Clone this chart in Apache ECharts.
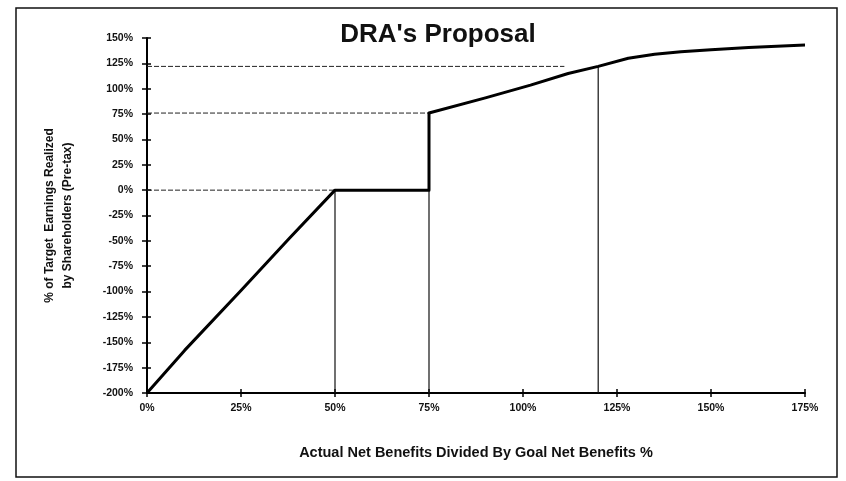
<!DOCTYPE html>
<html>
<head>
<meta charset="utf-8">
<script src="https://cdn.jsdelivr.net/npm/echarts@6/dist/echarts.min.js"></script>
<style>
  html, body { margin: 0; padding: 0; background: #fff; }
  #chart { width: 846px; height: 481px; }
</style>
</head>
<body>
<div id="chart"></div>
<script>
// Net benefits ratio (%) versus share of target earnings realized (%)
const benefitPct = [0, 10, 25, 38, 50, 75, 75, 90, 102, 112, 120, 128, 135, 142, 150, 160, 175];
const earningsPct = [-200, -158, -99, -47, 0, 0, 76, 91, 103.5, 115, 122, 130, 134, 136.5, 138.5, 140.7, 143];

// Dotted guide lines from the y axis to the breakpoints
const guideLevels = [0, 76, 122];
const guideEnds = [50, 75, 111];
// Drop lines from the breakpoints to the x axis
const dropX = [50, 75, 120];
const dropTop = [0, 0, 122];

const xTicks = { min: 0, max: 175, step: 25 };
const yTicks = { min: -200, max: 150, step: 25 };

const titleText = "DRA's Proposal";
const xName = 'Actual Net Benefits Divided By Goal Net Benefits %';
const yName = '% of Target  Earnings Realized\nby Shareholders (Pre-tax)';

const pct = v => v + '%';
const curve = benefitPct.map((x, i) => [x, earningsPct[i]]);

const labelFont = {
  fontFamily: 'Liberation Sans, Arial, sans-serif',
  fontWeight: 'bold',
  fontSize: 10.5,
  color: '#111'
};

const series = [];
guideLevels.forEach((lvl, i) => {
  series.push({
    type: 'line', silent: true, symbol: 'none', z: 2,
    data: [[xTicks.min, lvl], [guideEnds[i], lvl]],
    lineStyle: { color: '#222', width: 1, type: [5, 2] }
  });
});
dropX.forEach((x, i) => {
  series.push({
    type: 'line', silent: true, symbol: 'none', z: 2,
    data: [[x, yTicks.min], [x, dropTop[i]]],
    lineStyle: { color: '#111', width: 1.2 }
  });
});
series.push({
  type: 'line', symbol: 'none', z: 5,
  data: curve,
  lineStyle: { color: '#000', width: 3, join: 'round' }
});

const chart = echarts.init(document.getElementById('chart'));
chart.setOption({
  animation: false,
  backgroundColor: '#fff',
  title: {
    text: titleText,
    left: 433, top: 17, textAlign: 'center',
    textStyle: { fontFamily: 'Liberation Sans, Arial, sans-serif', fontSize: 26, fontWeight: 'bold', color: '#111' }
  },
  grid: { left: 147, right: 41, top: 38, bottom: 88 },
  xAxis: [{
    type: 'value', min: xTicks.min, max: xTicks.max, interval: xTicks.step,
    name: xName, nameLocation: 'middle', nameGap: 52,
    nameTextStyle: { fontFamily: 'Liberation Sans, Arial, sans-serif', fontWeight: 'bold', fontSize: 14.5, color: '#111' },
    axisLine: { onZero: false, lineStyle: { color: '#000', width: 2 } },
    axisTick: { length: 4, lineStyle: { color: '#000', width: 1.5 } },
    axisLabel: Object.assign({ formatter: pct, margin: 10 }, labelFont),
    splitLine: { show: false }
  }, {
    type: 'value', position: 'bottom', min: xTicks.min, max: xTicks.max, interval: xTicks.step,
    axisLine: { show: false, onZero: false },
    axisTick: { inside: true, length: 4, lineStyle: { color: '#000', width: 1.5 } },
    axisLabel: { show: false }, splitLine: { show: false }
  }],
  yAxis: [{
    type: 'value', min: yTicks.min, max: yTicks.max, interval: yTicks.step,
    name: yName, nameLocation: 'middle', nameGap: 70, nameRotate: 90,
    nameTextStyle: { fontFamily: 'Liberation Sans, Arial, sans-serif', fontSize: 12, fontWeight: 'bold', lineHeight: 18, color: '#111', align: 'center' },
    axisLine: { onZero: false, lineStyle: { color: '#000', width: 2 } },
    axisTick: { length: 5, lineStyle: { color: '#000', width: 1.5 } },
    axisLabel: Object.assign({ formatter: pct, margin: 14 }, labelFont),
    splitLine: { show: false }
  }, {
    type: 'value', position: 'left', min: yTicks.min, max: yTicks.max, interval: yTicks.step,
    axisLine: { show: false, onZero: false },
    axisTick: { inside: true, length: 4, lineStyle: { color: '#000', width: 1.5 } },
    axisLabel: { show: false }, splitLine: { show: false }
  }],
  graphic: [{
    type: 'rect', silent: true, z: 0,
    shape: { x: 16, y: 8, width: 821, height: 469 },
    style: { fill: 'none', stroke: '#111', lineWidth: 1.5 }
  }],
  series: series
});
</script>
</body>
</html>
